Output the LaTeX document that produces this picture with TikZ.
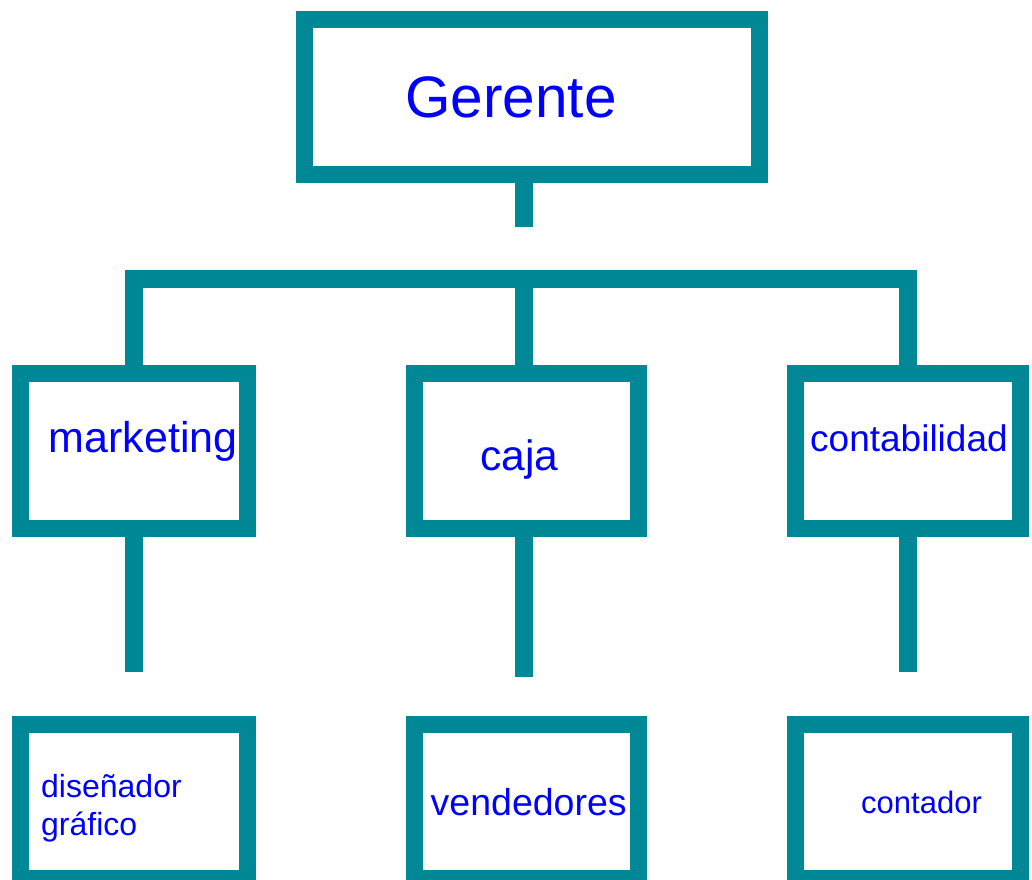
\documentclass[tikz,border=0pt]{standalone}
\usepackage{fontspec}
\setmainfont{Liberation Sans}
\definecolor{teal1}{RGB}{0,136,150}
\definecolor{txtblue}{RGB}{0,0,255}
\begin{document}
\begin{tikzpicture}[x=1pt,y=-1pt,
  box/.style={draw=teal1,line width=17pt,fill=white,rectangle,inner sep=0pt},
  conn/.style={draw=teal1,line width=18pt,line join=miter},
  lbl/.style={anchor=base west,inner sep=0pt,text=txtblue,align=left},
]
\useasboundingbox (0,0) rectangle (1032,879);
\clip (0,0) rectangle (1032,879);
% boxes
\node[box,minimum width=455pt,minimum height=154.5pt] (g) at (532,96.75) {};
\node[box,minimum width=227pt,minimum height=154.5pt] (mk) at (134,450.75) {};
\node[box,minimum width=224.5pt,minimum height=154.5pt] (cj) at (526.25,450.75) {};
\node[box,minimum width=224.5pt,minimum height=154.5pt] (ct) at (907.75,450.75) {};
\node[box,minimum width=227pt,minimum height=154pt] (dg) at (134,801.5) {};
\node[box,minimum width=224.5pt,minimum height=154pt] (vd) at (526.25,801.5) {};
\node[box,minimum width=224.5pt,minimum height=154pt] (cn) at (907.75,801.5) {};
% connector coordinates
\coordinate (gs) at (524,227);
\coordinate (barL) at (134,279);
\coordinate (barC) at (524,279);
\coordinate (barR) at (907.5,279);
\coordinate (s1) at (134,672);
\coordinate (s2) at (524,677);
\coordinate (s3) at (907.5,672);
% connectors
\draw[conn] (gs |- g.south) -- (gs);
\draw[conn] (mk.north -| barL) -- (barL) -- (barR) -- (ct.north -| barR);
\draw[conn] (cj.north -| barC) -- (barC);
\draw[conn] (mk.south -| s1) -- (s1);
\draw[conn] (cj.south -| s2) -- (s2);
\draw[conn] (ct.south -| s3) -- (s3);
% labels
\node[lbl,font=\fontsize{58.5}{68}\selectfont] (tg) at (405,117) {Gerente};
\node[lbl,font=\fontsize{43}{50}\selectfont] (tmk) at (48.5,452) {marketing};
\node[lbl,font=\fontsize{42.5}{50}\selectfont] (tcj) at (480,470) {caja};
\node[lbl,font=\fontsize{37}{44}\selectfont] (tct) at (810,451) {contabilidad};
\node[lbl,font=\fontsize{32}{38}\selectfont,anchor=north west] (tdg) at (41,774) {diseñador\\gráfico};
\node[lbl,font=\fontsize{37.5}{44}\selectfont] (tvd) at (430.5,815) {vendedores};
\node[lbl,font=\fontsize{31}{37}\selectfont] (tcn) at (861,813) {contador};
\end{tikzpicture}
\end{document}
